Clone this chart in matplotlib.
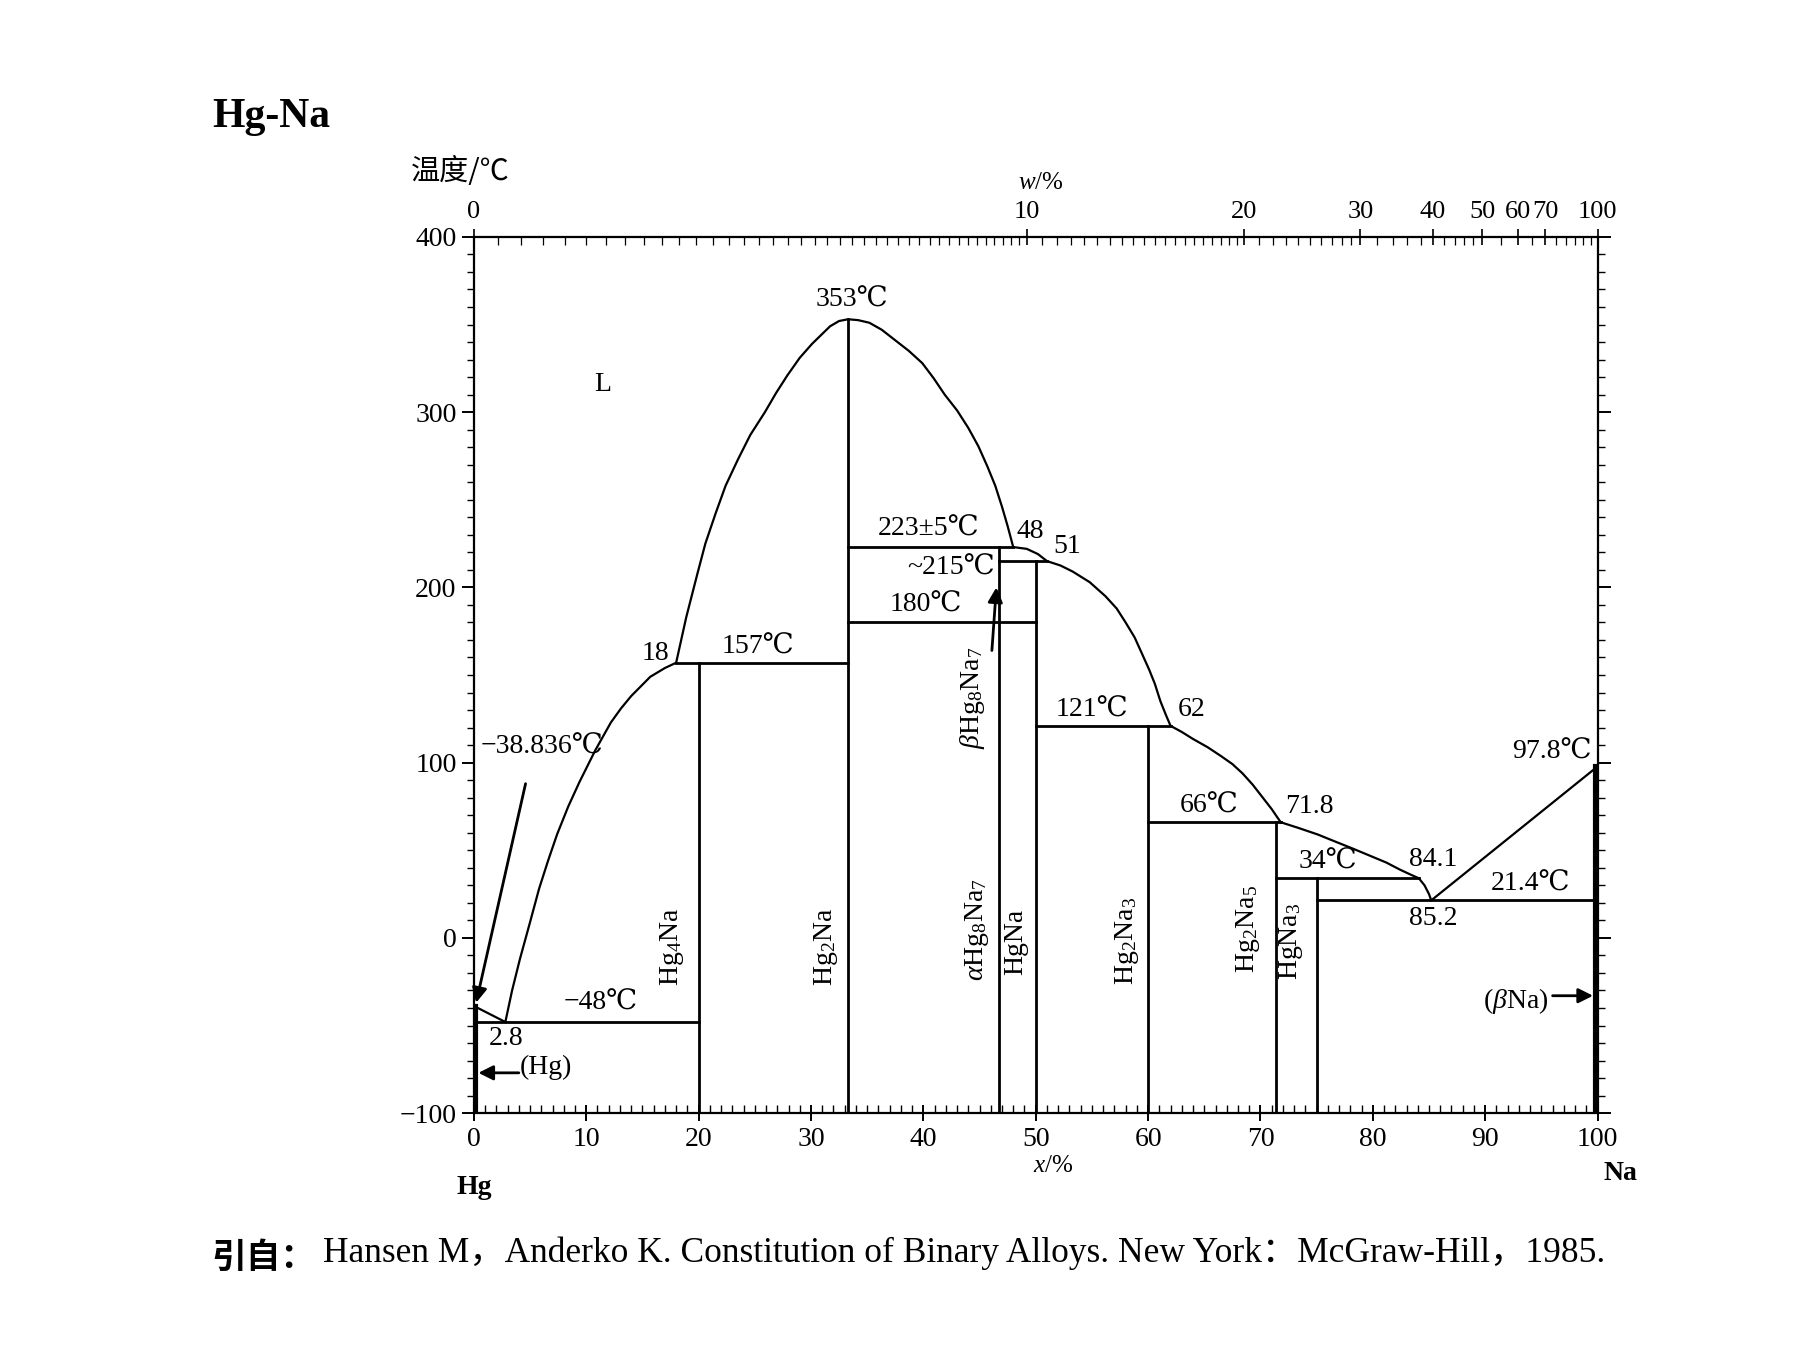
import numpy as np
import matplotlib
matplotlib.use("Agg")
import matplotlib.pyplot as plt

plt.rcParams['font.family'] = ['Liberation Serif', 'DejaVu Serif', 'Noto Sans CJK SC']
plt.rcParams['mathtext.fontset'] = 'custom'
plt.rcParams['mathtext.rm'] = 'Liberation Serif'
plt.rcParams['mathtext.it'] = 'Liberation Serif:italic'
plt.rcParams['mathtext.bf'] = 'Liberation Serif:bold'
plt.rcParams['axes.unicode_minus'] = True

# liquidus pieces (x = at.% Na, t = deg C)
hg_side_x = [0.0, 2.8]
hg_side_t = [-38.836, -48.0]
liq_left_x = [2.8, 3.4, 4.1, 5.0, 5.8, 6.6, 7.4, 8.4, 9.4, 10.8, 12.2, 13.1, 14.0, 15.7, 17.0, 18.0]
liq_left_t = [-48, -30, -12, 9, 28, 44, 59, 75, 89, 107, 123, 131, 138, 149, 154, 157]
dome_x = [18.0, 18.9, 19.9, 20.6, 21.5, 22.4, 23.5, 24.6, 25.9, 26.9, 27.9, 29.0, 30.1, 31.7,
          32.5, 33.3, 34.2, 35.2, 36.3, 37.5, 38.7, 39.9, 40.9, 41.9, 43.0, 44.0, 44.9, 45.7,
          46.4, 47.0, 47.5, 48.0]
dome_t = [157, 183, 208, 225, 242, 258, 273, 287, 300, 311, 321, 331, 339, 349,
          352, 353, 352.5, 351, 347, 341, 335, 328, 319.5, 310, 301, 291, 280.5, 269,
          258, 246, 235, 223]
seg48_x = [48.0, 49.2, 50.2, 51.0]
seg48_t = [223, 222, 219, 215]
seg51_x = [51.0, 52.2, 53.3, 54.8, 56.2, 57.2, 58.0, 58.8, 59.4, 60.1, 60.6, 61.1, 61.6, 62.0]
seg51_t = [215, 212.5, 209, 203, 195, 188, 180, 171.5, 163, 153, 145, 135, 127, 121]
seg62_x = [62.0, 63.0, 64.0, 65.3, 66.5, 67.5, 68.4, 69.3, 70.2, 71.0, 71.8]
seg62_t = [121, 117.5, 113.5, 108.8, 103.7, 99.2, 93.9, 87.5, 80.1, 73.5, 66]
seg72_x = [71.8, 73.4, 75.1, 76.6, 78.2, 79.7, 81.2, 82.4, 83.4, 84.1]
seg72_t = [66, 62.7, 59, 55.1, 51, 47, 43, 39, 36, 34]
seg84_x = [84.1, 84.6, 85.0, 85.2]
seg84_t = [34, 30, 25, 21.4]
na_side_x = [85.2, 100.0]
na_side_t = [21.4, 97.8]

# invariant horizontals
h_x0 = [0.0, 18.0, 33.3, 46.7, 33.3, 50.0, 60.0, 71.4, 75.0]
h_x1 = [20.0, 33.3, 48.0, 51.0, 50.0, 62.0, 71.8, 84.1, 100.0]
h_t = [-48, 157, 223, 215, 180, 121, 66, 34, 21.4]

# compound verticals
comp_x = [20.0, 33.3, 46.7, 50.0, 60.0, 71.4, 75.0]
comp_top = [157, 353, 223, 215, 121, 66, 34]
comp_names = [r'Hg$_4$Na', r'Hg$_2$Na', r'$\alpha$Hg$_8$Na$_7$', 'HgNa',
              r'Hg$_2$Na$_3$', r'Hg$_2$Na$_5$', r'HgNa$_3$']
comp_lab_x = [17.6, 31.3, 44.8, 48.2, 58.1, 68.9, 72.7]
comp_lab_t = [-5, -5, 5, -2, -2, 5, -2]

# weight % scale on top
top_major = [0, 10, 20, 30, 40, 50, 60, 70, 100]
M_NA = 22.99
M_HG = 200.59


def x2w(x):
    x = np.asarray(x, dtype=float)
    a = x * M_NA
    b = (100 - x) * M_HG
    return 100 * a / np.maximum(a + b, 1e-12)


def w2x(w):
    w = np.asarray(w, dtype=float)
    a = w / M_NA
    b = (100 - w) / M_HG
    return 100 * a / np.maximum(a + b, 1e-12)


fig = plt.figure(figsize=(17.95, 13.46), dpi=100)
ax = fig.add_axes([0.264, 0.173, 0.626, 0.651])
ax.set_xlim(0, 100)
ax.set_ylim(-100, 400)

lw = 1.6
k = 'black'
for xs, ts in [(hg_side_x, hg_side_t), (liq_left_x, liq_left_t), (dome_x, dome_t),
               (seg48_x, seg48_t), (seg51_x, seg51_t), (seg62_x, seg62_t),
               (seg72_x, seg72_t), (seg84_x, seg84_t), (na_side_x, na_side_t)]:
    ax.plot(xs, ts, color=k, lw=lw, solid_joinstyle='round')

for x0, x1, t in zip(h_x0, h_x1, h_t):
    ax.plot([x0, x1], [t, t], color=k, lw=lw + 0.4)

for x, t in zip(comp_x, comp_top):
    ax.plot([x, x], [-100, t], color=k, lw=lw + 0.4)

# terminal solid solutions drawn heavy on the edges
ax.plot([0.2, 0.2], [-100, -38.836], color=k, lw=3.0)
ax.plot([99.8, 99.8], [-100, 97.8], color=k, lw=3.0)

fs = 20
for name, x, t in zip(comp_names, comp_lab_x, comp_lab_t):
    ax.text(x, t, name, rotation=90, ha='center', va='center', fontsize=fs)

ax.text(44.4, 137, r'$\beta$Hg$_8$Na$_7$', rotation=90, ha='center', va='center', fontsize=fs)

ax.text(11.5, 316, 'L', ha='center', va='center', fontsize=fs)
ax.text(33.6, 357, '353℃', ha='center', va='bottom', fontsize=fs)
ax.text(40.5, 226, '223±5℃', ha='center', va='bottom', fontsize=fs)
ax.text(48.3, 225, '48', ha='left', va='bottom', fontsize=fs)
ax.text(51.6, 216, '51', ha='left', va='bottom', fontsize=fs)
ax.text(46.4, 211, '~215℃', ha='right', va='center', fontsize=fs)
ax.text(40.2, 183, '180℃', ha='center', va='bottom', fontsize=fs)
ax.text(17.4, 162, '18', ha='right', va='center', fontsize=fs)
ax.text(25.3, 159, '157℃', ha='center', va='bottom', fontsize=fs)
ax.text(55.0, 123, '121℃', ha='center', va='bottom', fontsize=fs)
ax.text(62.6, 123, '62', ha='left', va='bottom', fontsize=fs)
ax.text(65.4, 68, '66℃', ha='center', va='bottom', fontsize=fs)
ax.text(72.2, 68, '71.8', ha='left', va='bottom', fontsize=fs)
ax.text(76.0, 36, '34℃', ha='center', va='bottom', fontsize=fs)
ax.text(85.4, 45, '84.1', ha='center', va='center', fontsize=fs)
ax.text(85.4, 18, '85.2', ha='center', va='top', fontsize=fs)
ax.text(94.0, 23.5, '21.4℃', ha='center', va='bottom', fontsize=fs)
ax.text(99.5, 99, '97.8℃', ha='right', va='bottom', fontsize=fs)
ax.text(92.7, -36, r'($\beta$Na)', ha='center', va='center', fontsize=fs)
ax.text(6.1, 109, '−38.836℃', ha='center', va='center', fontsize=fs)
ax.text(11.3, -37, '−48℃', ha='center', va='center', fontsize=fs)
ax.text(2.9, -50, '2.8', ha='center', va='top', fontsize=fs)
ax.text(6.4, -74, '(Hg)', ha='center', va='center', fontsize=fs)

arrow = dict(arrowstyle='-|>', color=k, lw=2.0, mutation_scale=22, shrinkA=0, shrinkB=0)
ax.annotate('', xy=(0.2, -37), xytext=(4.6, 88), arrowprops=arrow)
ax.annotate('', xy=(46.5, 200), xytext=(46.1, 164), arrowprops=arrow)
ax.annotate('', xy=(0.4, -77), xytext=(4.0, -77), arrowprops=arrow)
ax.annotate('', xy=(99.6, -33), xytext=(96.0, -33), arrowprops=arrow)

# axes & ticks
for s in ax.spines.values():
    s.set_linewidth(1.6)
ax.set_xticks(np.arange(0, 101, 10))
ax.set_xticks(np.arange(0, 101, 1), minor=True)
ax.set_yticks(np.arange(-100, 401, 100))
ax.set_yticks(np.arange(-100, 401, 10), minor=True)
ax.tick_params(axis='x', which='major', direction='inout', length=12, width=1.4, labelsize=fs, pad=4)
ax.tick_params(axis='x', which='minor', direction='in', length=6, width=1.0)
ax.tick_params(axis='y', which='major', direction='out', length=9, width=1.4, labelsize=fs,
               right=True, left=True)
ax.tick_params(axis='y', which='minor', direction='out', length=5, width=1.0, right=True, left=True)

top = ax.secondary_xaxis('top', functions=(x2w, w2x))
top.set_xticks(top_major)
top_minor = list(np.arange(0, 10, 0.25)) + list(np.arange(10, 20, 0.5)) + \
    list(np.arange(20, 30, 1.0)) + list(np.arange(30, 50, 2.0)) + list(np.arange(50, 100, 5.0))
top.set_xticks(top_minor, minor=True)
top.tick_params(axis='x', which='major', direction='inout', length=12, width=1.2, labelsize=19, pad=4)
top.tick_params(axis='x', which='minor', direction='in', length=6, width=0.9)
top.spines['top'].set_linewidth(1.4)

fig.text(0.118, 0.913, 'Hg-Na', fontsize=30, fontweight='bold', ha='left', va='center')
fig.text(0.229, 0.872, '温度/℃', fontsize=21, ha='left', va='center',
         family=['Noto Sans CJK SC', 'DejaVu Sans'])
fig.text(0.580, 0.864, r'$w$/%', fontsize=18, ha='center', va='center')
fig.text(0.587, 0.134, r'$x$/%', fontsize=18, ha='center', va='center')
fig.text(0.264, 0.118, 'Hg', fontsize=20, ha='center', va='center', fontweight='bold')
fig.text(0.903, 0.128, 'Na', fontsize=20, ha='center', va='center', fontweight='bold')
fig.text(0.118, 0.066, '引自：', fontsize=25, ha='left', va='center', fontweight='bold',
         family=['Noto Sans CJK SC', 'DejaVu Sans'])
fig.text(0.180, 0.069, 'Hansen M，Anderko K. Constitution of Binary Alloys. New York：McGraw-Hill，1985.',
         fontsize=25.5, ha='left', va='center', family=['Liberation Serif', 'Noto Sans CJK SC'])

fig.savefig('out.png', dpi=100)
